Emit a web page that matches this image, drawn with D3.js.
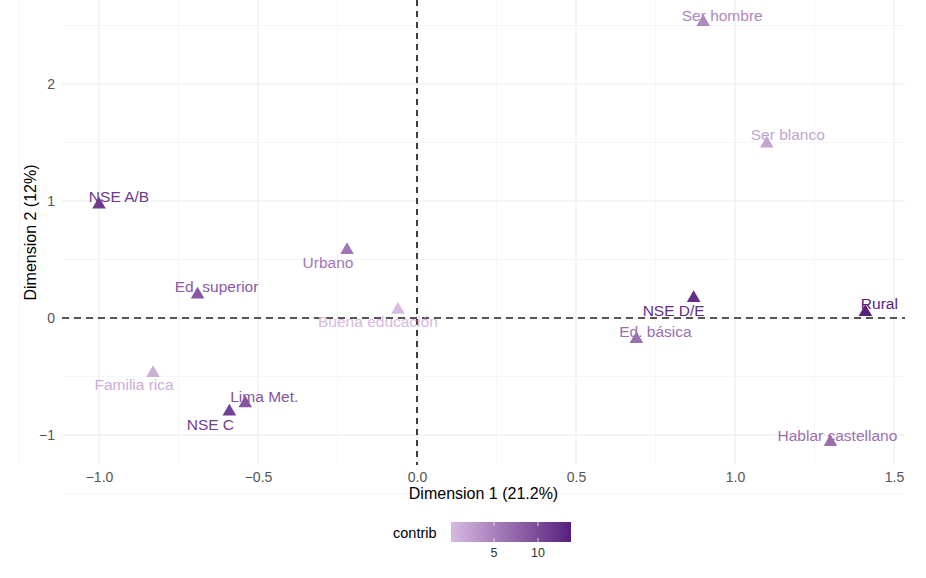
<!DOCTYPE html>
<html>
<head>
<meta charset="utf-8">
<script src="https://cdn.jsdelivr.net/npm/d3@7"></script>
<style>
  body { margin: 0; background: #fff; }
  text { font-family: "Liberation Sans", Arial, sans-serif; }
</style>
</head>
<body>
<script>
// MCA variable categories: coordinates on dim 1 / dim 2 and contribution
var categories = ["NSE A/B", "Ser hombre", "Ser blanco", "Urbano", "Ed. superior",
                  "Buena educación", "NSE D/E", "Rural", "Ed. básica", "Familia rica",
                  "Lima Met.", "NSE C", "Hablar castellano"];
var dim1 = [-1.00, 0.90, 1.10, -0.22, -0.69, -0.06, 0.87, 1.41, 0.69, -0.83, -0.54, -0.59, 1.30];
var dim2 = [0.97, 2.53, 1.49, 0.58, 0.20, 0.07, 0.17, 0.05, -0.18, -0.47, -0.73, -0.80, -1.06];
var contrib = [11.5, 4.5, 2.0, 6.0, 8.5, 0.1, 12.5, 13.7, 6.5, 1.2, 9.0, 11.0, 6.5];

// repel-style label nudges in pixels (layout only)
var labelDx = [20, 19, 21, -19, 19, -20, -20, 14, 19, -19, 19, -19, 7];
var labelDy = [-8, -6, -9, 12, -8, 12, 12, -9, -7, 12, -7, 13, -6];

var xTicks = [-1.0, -0.5, 0.0, 0.5, 1.0, 1.5];
var yTicks = [-1, 0, 1, 2];
var legendTicks = [5, 10];

var width = 926, height = 578;
var panel = {left: 62, right: 905, top: 0, bottom: 465};

var svg = d3.select("body").append("svg")
  .attr("width", width)
  .attr("height", height);

var x = d3.scaleLinear().domain([-1.0, 1.5]).range([99, 894]);
var y = d3.scaleLinear().domain([0, 2]).range([318, 84]);

var cLo = "#d6badf", cHi = "#58207f";
var cDomain = [0.1, 13.75];
var color = d3.scaleLinear().domain(cDomain).range([cLo, cHi]).interpolate(d3.interpolateLab);

// minor grid
var xMinor = d3.range(-1.25, 1.76, 0.5), yMinor = d3.range(-1.5, 2.6, 1);
var grid = svg.append("g");
grid.selectAll(".xminor").data(xMinor).enter().append("line")
  .attr("x1", x).attr("x2", x).attr("y1", panel.top).attr("y2", panel.bottom)
  .attr("stroke", "#f4f4f4").attr("stroke-width", 0.8);
grid.selectAll(".yminor").data(yMinor).enter().append("line")
  .attr("y1", y).attr("y2", y).attr("x1", panel.left).attr("x2", panel.right)
  .attr("stroke", "#f4f4f4").attr("stroke-width", 0.8);
grid.selectAll(".xmajor").data(xTicks).enter().append("line")
  .attr("x1", x).attr("x2", x).attr("y1", panel.top).attr("y2", panel.bottom)
  .attr("stroke", "#ebebeb").attr("stroke-width", 1.1);
grid.selectAll(".ymajor").data(yTicks).enter().append("line")
  .attr("y1", y).attr("y2", y).attr("x1", panel.left).attr("x2", panel.right)
  .attr("stroke", "#ebebeb").attr("stroke-width", 1.1);

// axes (ticks only as labels, ggplot minimal style)
var xAxis = svg.append("g")
  .attr("transform", "translate(0," + (panel.bottom + 3) + ")")
  .call(d3.axisBottom(x).tickValues(xTicks).tickFormat(d3.format(".1f")).tickSize(0).tickPadding(4));
var yAxis = svg.append("g")
  .attr("transform", "translate(" + (panel.left - 3) + ",0)")
  .call(d3.axisLeft(y).tickValues(yTicks).tickFormat(d3.format("d")).tickSize(0).tickPadding(4));
[xAxis, yAxis].forEach(function(a) {
  a.select(".domain").remove();
  a.selectAll("text").attr("fill", "#555").style("font-size", "14px")
    .style("font-family", "'Liberation Sans', Arial, sans-serif");
});
yAxis.selectAll("text").attr("dy", "0.35em");

// reference lines
svg.append("line")
  .attr("x1", x(0)).attr("x2", x(0)).attr("y1", panel.top).attr("y2", panel.bottom)
  .attr("stroke", "#111").attr("stroke-width", 1.6).attr("stroke-dasharray", "6,5");
svg.append("line")
  .attr("y1", y(0)).attr("y2", y(0)).attr("x1", panel.left).attr("x2", panel.right)
  .attr("stroke", "#222").attr("stroke-width", 1.6).attr("stroke-dasharray", "7,5");

var data = categories.map(function(c, i) {
  return {name: c, x: dim1[i], y: dim2[i], contrib: contrib[i], dx: labelDx[i], dy: labelDy[i]};
});

// triangles
svg.append("g").selectAll("path").data(data).enter().append("path")
  .attr("d", d3.symbol().type(d3.symbolTriangle).size(80))
  .attr("transform", function(d) { return "translate(" + x(d.x) + "," + y(d.y) + ")"; })
  .attr("fill", function(d) { return color(d.contrib); });

// labels
svg.append("g").selectAll("text").data(data).enter().append("text")
  .attr("x", function(d) { return x(d.x) + d.dx; })
  .attr("y", function(d) { return y(d.y) + d.dy; })
  .attr("dy", "0.35em")
  .attr("text-anchor", "middle")
  .style("font-size", "15.5px")
  .attr("fill", function(d) { return color(d.contrib); })
  .text(function(d) { return d.name; });

// axis titles
svg.append("text")
  .attr("x", (panel.left + panel.right) / 2).attr("y", 499)
  .attr("text-anchor", "middle").style("font-size", "16px").attr("fill", "#000")
  .text("Dimension 1 (21.2%)");
svg.append("text")
  .attr("transform", "translate(36," + ((panel.top + panel.bottom) / 2) + ") rotate(-90)")
  .attr("text-anchor", "middle").style("font-size", "16px").attr("fill", "#000")
  .text("Dimension 2 (12%)");

// legend
var lg = {x0: 451, x1: 571, y0: 522, h: 20};
var defs = svg.append("defs");
var grad = defs.append("linearGradient").attr("id", "cgrad");
d3.range(0, 1.001, 0.1).forEach(function(t) {
  grad.append("stop").attr("offset", t)
    .attr("stop-color", color(cDomain[0] + t * (cDomain[1] - cDomain[0])));
});
svg.append("rect")
  .attr("x", lg.x0).attr("y", lg.y0).attr("width", lg.x1 - lg.x0).attr("height", lg.h)
  .attr("fill", "url(#cgrad)");
var lx = d3.scaleLinear().domain(cDomain).range([lg.x0, lg.x1]);
svg.append("g").selectAll("line.t").data(legendTicks).enter().append("line")
  .attr("x1", lx).attr("x2", lx).attr("y1", lg.y0).attr("y2", lg.y0 + 4)
  .attr("stroke", "#fff").attr("stroke-opacity", 0.7);
svg.append("g").selectAll("line.b").data(legendTicks).enter().append("line")
  .attr("x1", lx).attr("x2", lx).attr("y1", lg.y0 + lg.h - 4).attr("y2", lg.y0 + lg.h)
  .attr("stroke", "#fff").attr("stroke-opacity", 0.7);
svg.append("g").selectAll("text").data(legendTicks).enter().append("text")
  .attr("x", lx).attr("y", lg.y0 + lg.h + 15)
  .attr("text-anchor", "middle").style("font-size", "12.5px").attr("fill", "#333")
  .text(function(d) { return d; });
svg.append("text")
  .attr("x", 393).attr("y", lg.y0 + lg.h / 2 + 1).attr("dy", "0.35em")
  .style("font-size", "14.5px").attr("fill", "#000")
  .text("contrib");
</script>
</body>
</html>
